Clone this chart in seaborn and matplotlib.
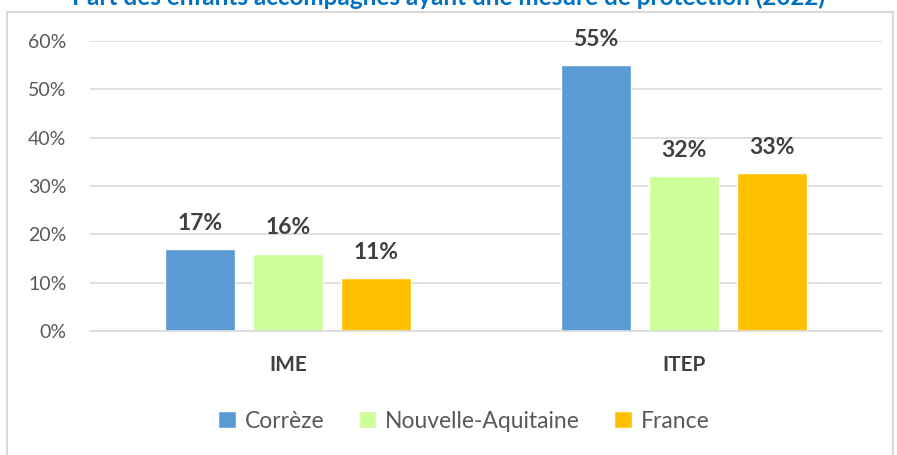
import matplotlib
matplotlib.use("Agg")
import matplotlib.pyplot as plt
from matplotlib.patches import Rectangle
from matplotlib.ticker import PercentFormatter
import seaborn as sns
import pandas as pd

categories = ["IME", "ITEP"]
regions = ["Corrèze", "Nouvelle-Aquitaine", "France"]
correze = [17, 55]
nouvelle_aquitaine = [16, 32]
france = [11, 32.7]
y_ticks = [0, 10, 20, 30, 40, 50, 60]
title = "Part des enfants accompagnés ayant une mesure de protection (2022)"

colors = {"Corrèze": "#5B9BD5", "Nouvelle-Aquitaine": "#CCFF99", "France": "#FFC000"}
text_color = "#595959"
label_color = "#404040"

sns.set_theme(style="white")
plt.rcParams["font.family"] = ["Lato", "DejaVu Sans"]

df = pd.DataFrame({
    "categorie": categories * 3,
    "zone": [r for r in regions for _ in categories],
    "valeur": correze + nouvelle_aquitaine + france,
})

fig = plt.figure(figsize=(8.97, 4.55), dpi=100)
ax = fig.add_axes([90 / 897, 1 - 331 / 455, (882 - 90) / 897, (331 - 41) / 455])

sns.barplot(data=df, x="categorie", y="valeur", hue="zone", order=categories,
            hue_order=regions, palette=colors, width=0.667, gap=0.2,
            saturation=1, ax=ax, legend=True)

for container in ax.containers:
    ax.bar_label(container, labels=[f"{v:.0f}%" for v in container.datavalues],
                 padding=11, fontsize=16.5, fontweight="bold", color=label_color)

ax.set_ylim(0, 60)
ax.set_xlim(-0.5, 1.5)
ax.set_yticks(y_ticks)
ax.yaxis.set_major_formatter(PercentFormatter(decimals=0))
ax.grid(axis="y", color="#D9D9D9", linewidth=1.2)
ax.set_axisbelow(True)
for side in ["top", "right", "left"]:
    ax.spines[side].set_visible(False)
ax.spines["bottom"].set_color("#D9D9D9")
ax.spines["bottom"].set_linewidth(1.2)
ax.tick_params(axis="y", length=0, pad=17, labelsize=14, labelcolor=text_color)
ax.tick_params(axis="x", length=0, pad=17, labelsize=15, labelcolor=label_color)
for lbl in ax.get_xticklabels():
    lbl.set_fontweight("bold")
ax.set_xlabel("")
ax.set_ylabel("")

handles, labels = ax.get_legend_handles_labels()
ax.legend_.remove()
fig.legend(handles, labels, loc="center", bbox_to_anchor=(464 / 897, 1 - 421 / 455),
           ncol=3, frameon=False, fontsize=16.5, handlelength=0.75, handleheight=0.75,
           handletextpad=0.4, columnspacing=1.5, labelcolor=text_color)

# chart frame
fig.patches.append(Rectangle((7 / 897, -0.01), (893 - 7) / 897, 1 - 12 / 455 + 0.01,
                             transform=fig.transFigure, fill=False,
                             edgecolor="#D9D9D9", linewidth=1.5))

fig.text(0.5, 1 - 5 / 455, title, ha="center", va="baseline", fontsize=17.5,
         fontweight="bold", color="#0070C0")

fig.savefig("out.png", dpi=100)
